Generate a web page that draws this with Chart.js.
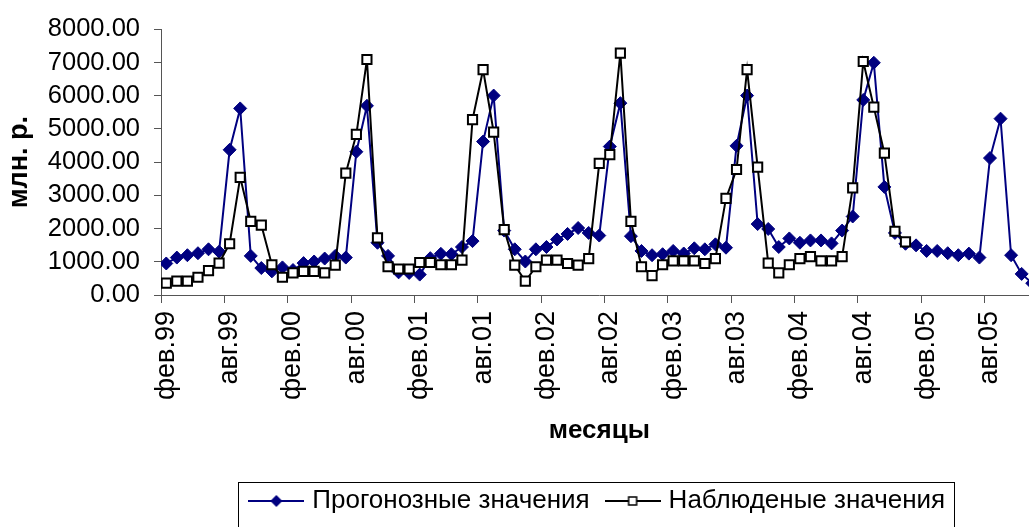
<!DOCTYPE html>
<html>
<head>
<meta charset="utf-8">
<script src="https://cdn.jsdelivr.net/npm/chart.js@4"></script>
<style>
html,body{margin:0;padding:0;background:#fff;overflow:hidden;}
canvas{display:block;}
</style>
</head>
<body>
<canvas id="c" width="1048" height="545"></canvas>
<script>
// Tick labels (every 6th month, starting фев.99)
const tickLabels = ['фев.99','авг.99','фев.00','авг.00','фев.01','авг.01','фев.02','авг.02','фев.03','авг.03','фев.04','авг.04','фев.05','авг.05'];
const monthCount = 83; // фев.99 .. дек.05

// Прогонозные значения (forecast)
const forecastValues = [
  949,1127,1198,1258,1376,1305,4372,5618,1178,812,712,831,
  752,960,1009,1098,1178,1127,4313,5696,1573,1178,682,664,
  614,1109,1240,1228,1445,1623,4619,6004,1940,1376,1009,1376,
  1445,1673,1839,2017,1869,1790,4470,5776,1771,1326,1198,1228,
  1326,1250,1406,1376,1525,1424,4491,6004,2136,1988,1445,1703,
  1573,1643,1643,1554,1940,2364,5874,6992,3254,1869,1543,1495,
  1326,1326,1258,1198,1246,1127,4123,5310,1198,635,356
];
// Наблюденые значения (observed)
const observedValues = [
  356,415,415,534,733,961,1543,3542,2216,2106,911,534,
  664,712,712,664,902,3670,4836,7090,1721,851,782,782,
  979,979,911,911,1050,5280,6784,4906,1970,902,415,851,
  1050,1050,949,902,1098,3966,4224,7280,2216,851,584,911,
  1029,1029,1029,949,1098,2907,3779,6784,3848,961,664,911,
  1098,1157,1029,1029,1157,3225,7031,5657,4272,1919,1602
];
const seriesNames = ['Прогонозные значения','Наблюденые значения'];

const FONT = "'Liberation Sans', Arial, sans-serif";
const NAVY = '#000080';

function makeIcon(kind){
  const cv = document.createElement('canvas');
  cv.width = 56; cv.height = 16;
  const g = cv.getContext('2d');
  g.lineWidth = 2;
  g.strokeStyle = kind === 'diamond' ? NAVY : '#000';
  g.beginPath(); g.moveTo(0,8); g.lineTo(56,8); g.stroke();
  if (kind === 'diamond') {
    g.fillStyle = NAVY;
    g.beginPath(); g.moveTo(28,2); g.lineTo(34,8); g.lineTo(28,14); g.lineTo(22,8); g.closePath(); g.fill();
  } else {
    g.fillStyle = '#fff'; g.lineWidth = 1.5;
    g.fillRect(24,4,8,8); g.strokeRect(24,4,8,8);
  }
  return cv;
}
const legendIcons = [makeIcon('diamond'), makeIcon('square')];

const legendBorder = {
  id: 'legendBorder',
  afterDraw(chart){
    const hb = chart.legend && chart.legend.legendHitBoxes;
    if (!hb || !hb.length) return;
    const ctx = chart.ctx;
    const left = hb[0].left - 15;
    const last = hb[hb.length-1];
    const right = last.left + last.width + 9;
    const top = hb[0].top - 6;
    const bottom = chart.height + 3;
    ctx.save();
    ctx.strokeStyle = '#000';
    ctx.lineWidth = 1;
    ctx.strokeRect(Math.round(left)+0.5, Math.round(top)+0.5, Math.round(right-left), Math.round(bottom-top));
    ctx.restore();
  }
};

new Chart(document.getElementById('c'), {
  type: 'line',
  data: {
    datasets: [
      {
        label: seriesNames[0],
        data: forecastValues.map((v,i)=>({x:i,y:v})),
        borderColor: NAVY, backgroundColor: NAVY,
        borderWidth: 2,
        pointStyle: 'rectRot', pointRadius: 6.5, pointBorderWidth: 1,
        pointBackgroundColor: NAVY, pointBorderColor: NAVY,
        tension: 0, order: 2
      },
      {
        label: seriesNames[1],
        data: observedValues.map((v,i)=>({x:i,y:v})),
        borderColor: '#000', backgroundColor: '#fff',
        borderWidth: 2,
        pointStyle: 'rect', pointRadius: 6.5, pointBorderWidth: 2,
        pointBackgroundColor: '#fff', pointBorderColor: '#000',
        tension: 0, order: 1
      }
    ]
  },
  options: {
    responsive: false,
    animation: false,
    devicePixelRatio: 1,
    layout: { padding: { top: 25, right: 10.5, bottom: 21, left: 0 } },
    plugins: {
      tooltip: { enabled: false },
      legend: {
        position: 'bottom',
        fullSize: false,
        labels: {
          usePointStyle: true,
          pointStyleWidth: 46,
          padding: 20,
          color: '#000',
          font: { family: FONT, size: 26 },
          sort: (a,b) => a.datasetIndex - b.datasetIndex,
          generateLabels(chart){
            const items = Chart.defaults.plugins.legend.labels.generateLabels(chart);
            items.forEach(it => { it.pointStyle = legendIcons[it.datasetIndex]; it.rotation = 0; });
            return items;
          }
        }
      }
    },
    scales: {
      x: {
        type: 'linear',
        min: -0.5,
        max: monthCount - 0.5,
        afterBuildTicks(s){ s.ticks = tickLabels.map((_,k)=>({value: 6*k - 0.5})); },
        afterFit(s){ s.height = 173; },
        ticks: {
          autoSkip: false, maxRotation: 90, minRotation: 90,
          padding: 8, labelOffset: 5.28,
          color: '#000', font: { family: FONT, size: 27 },
          callback: (v, i) => tickLabels[i]
        },
        grid: { drawOnChartArea: false, drawTicks: true, tickLength: 8, color: '#555' },
        border: { display: true, color: '#555', width: 1 },
        title: {
          display: true, text: 'месяцы', color: '#000',
          font: { family: FONT, size: 26, weight: 'bold' },
          padding: { top: 0, bottom: 22 }
        }
      },
      y: {
        min: 0, max: 8000,
        afterFit(s){ s.width = 161; },
        ticks: {
          stepSize: 1000, padding: 14, color: '#000', autoSkip: false,
          font: { family: FONT, size: 25.5 },
          callback: v => Number(v).toFixed(2)
        },
        grid: { drawOnChartArea: false, drawTicks: true, tickLength: 7, color: '#555' },
        border: { display: true, color: '#555', width: 1 },
        title: {
          display: true, text: 'млн. р.', color: '#000',
          font: { family: FONT, size: 27, weight: 'bold' },
          padding: { top: 3, bottom: 0 }
        }
      }
    }
  },
  plugins: [legendBorder]
});
</script>
</body>
</html>
